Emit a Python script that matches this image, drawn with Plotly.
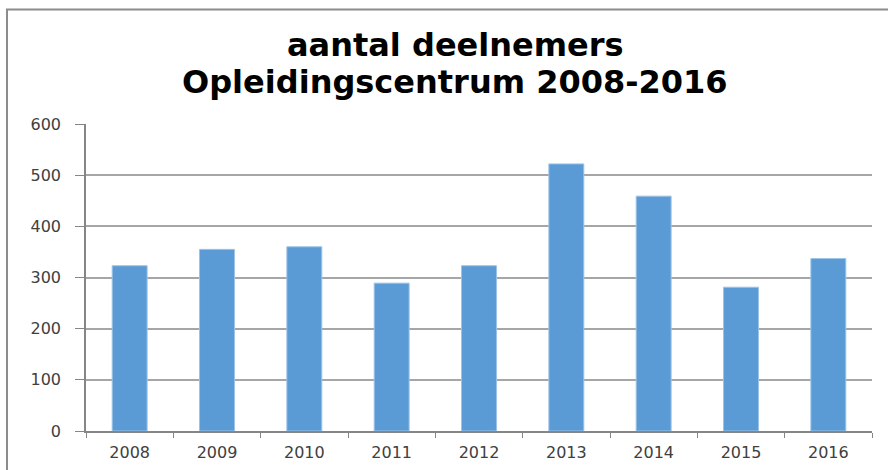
import plotly.graph_objects as go

years = ["2008", "2009", "2010", "2011", "2012", "2013", "2014", "2015", "2016"]
deelnemers = [323, 355, 360, 289, 323, 522, 459, 281, 337]
y_ticks = [0, 100, 200, 300, 400, 500, 600]
title_lines = ["aantal deelnemers", "Opleidingscentrum 2008-2016"]

W, H = 888, 470
L, T = 86, 124
R = W - 872
B = H - 431
pw, ph = W - L - R, H - T - B

def px(x):
    return (x - L) / pw

def py(y):
    return (H - B - y) / ph

fig = go.Figure(go.Bar(
    x=years, y=deelnemers,
    marker=dict(color="#5b9bd5", line=dict(color="#9cc3e6", width=1)),
    width=0.4,
    hoverinfo="skip",
))

fig.update_layout(
    width=W, height=H,
    margin=dict(l=L, r=R, t=T, b=B, autoexpand=False),
    paper_bgcolor="white", plot_bgcolor="white",
    showlegend=False,
    font=dict(family="DejaVu Sans", color="#404040"),
)
fig.update_xaxes(
    type="category", tickson="boundaries", ticks="outside", ticklen=5,
    tickcolor="#868686", showline=True, linecolor="#868686", linewidth=1.5,
    showgrid=False, tickfont=dict(size=16, color="#404040"),
    ticklabelstandoff=6,
)
fig.update_yaxes(
    range=[0, 600], tickvals=y_ticks, ticks="outside", ticklen=9,
    tickcolor="#868686", showline=True, linecolor="#868686", linewidth=1.5,
    showgrid=True, gridcolor="#a6a6a6", gridwidth=1.5,
    tickfont=dict(size=16, color="#404040"), zeroline=False,
    ticklabelstandoff=11,
)

for txt, ycen in zip(title_lines, [45, 82]):
    fig.add_annotation(
        text=f"<b>{txt}</b>", xref="paper", yref="paper",
        x=px(455), y=py(ycen), xanchor="center", yanchor="middle",
        showarrow=False, font=dict(family="DejaVu Sans", size=32, color="black"),
    )

fig.add_shape(
    type="path", xref="paper", yref="paper",
    path=f"M {px(7)} {py(480)} L {px(7)} {py(9.5)} L {px(900)} {py(9.5)}",
    line=dict(color="#8c8c8c", width=2),
)

fig.write_html(
    "out.html",
    config={"displayModeBar": False},
    post_script="document.body.style.margin='0';document.body.style.overflow='hidden';",
)
